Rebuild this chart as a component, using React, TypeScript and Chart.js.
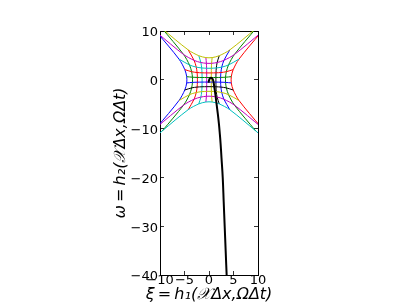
import React, { useEffect, useRef } from "react";
import { Chart, registerables } from "chart.js";

Chart.register(...registerables);

// Axis ticks
const xTickValues = [-10, -5, 0, 5, 10];
const xTickLabels = ["−10", "−5", "0", "5", "10"];
const yTickValues = [-40, -30, -20, -10, 0, 10];
const yTickLabels = ["−40", "−30", "−20", "−10", "0", "10"];

// Mapped grid: node coordinates. Row j = one line of the "horizontal" family (bottom → top),
// column i = one line of the "vertical" family (left → right).
const meshX = [
  [-16, -9.54, -4.25, -2.09, -0.64, 0.64, 2.09, 4.25, 9.54, 16],
  [-10.48, -5.19, -3.04, -1.66, -0.53, 0.53, 1.66, 3.04, 5.19, 10.48],
  [-6.13, -3.98, -2.6, -1.49, -0.49, 0.49, 1.49, 2.6, 3.98, 6.13],
  [-4.94, -3.54, -2.43, -1.43, -0.47, 0.47, 1.43, 2.43, 3.54, 4.94],
  [-4.55, -3.38, -2.37, -1.41, -0.47, 0.47, 1.41, 2.37, 3.38, 4.55],
  [-4.55, -3.38, -2.37, -1.41, -0.47, 0.47, 1.41, 2.37, 3.38, 4.55],
  [-4.94, -3.54, -2.43, -1.43, -0.47, 0.47, 1.43, 2.43, 3.54, 4.94],
  [-6.13, -3.98, -2.6, -1.49, -0.49, 0.49, 1.49, 2.6, 3.98, 6.13],
  [-10.48, -5.19, -3.04, -1.66, -0.53, 0.53, 1.66, 3.04, 5.19, 10.48],
  [-16, -9.54, -4.25, -2.09, -0.64, 0.64, 2.09, 4.25, 9.54, 16],
];
const meshY = [
  [-16, -10.48, -6.13, -4.94, -4.55, -4.55, -4.94, -6.13, -10.48, -16],
  [-9.54, -5.19, -3.98, -3.54, -3.38, -3.38, -3.54, -3.98, -5.19, -9.54],
  [-4.25, -3.04, -2.6, -2.43, -2.37, -2.37, -2.43, -2.6, -3.04, -4.25],
  [-2.09, -1.66, -1.49, -1.43, -1.41, -1.41, -1.43, -1.49, -1.66, -2.09],
  [-0.64, -0.53, -0.49, -0.47, -0.47, -0.47, -0.47, -0.49, -0.53, -0.64],
  [0.64, 0.53, 0.49, 0.47, 0.47, 0.47, 0.47, 0.49, 0.53, 0.64],
  [2.09, 1.66, 1.49, 1.43, 1.41, 1.41, 1.43, 1.49, 1.66, 2.09],
  [4.25, 3.04, 2.6, 2.43, 2.37, 2.37, 2.43, 2.6, 3.04, 4.25],
  [9.54, 5.19, 3.98, 3.54, 3.38, 3.38, 3.54, 3.98, 5.19, 9.54],
  [16, 10.48, 6.13, 4.94, 4.55, 4.55, 4.94, 6.13, 10.48, 16],
];

// matplotlib classic colour cycle b g r c m y k
const colColors = ["#0000ff", "#008000", "#ff0000", "#00bfbf", "#bf00bf", "#bfbf00", "#000000", "#0000ff", "#008000", "#ff0000"];
const rowColors = ["#00bfbf", "#bf00bf", "#bfbf00", "#000000", "#0000ff", "#008000", "#ff0000", "#00bfbf", "#bf00bf", "#bfbf00"];

// Thick black curve
const curveX = [-0.1, 0.05, 0.3, 0.55, 0.8, 0.95, 1.1, 1.3, 1.55, 1.8, 2.02, 2.2, 2.36, 2.55, 2.8, 3.0, 3.2, 3.4, 3.64];
const curveY = [-0.6, 0.05, 0.38, 0.35, 0.05, -0.6, -1.6, -3, -5, -7, -9, -11, -13, -16, -20, -25, -30, -35, -41];

const xTitle = "ξ\u2009=\u2009h₁(𝒳Δx,ΩΔt)";
const yTitle = "ω\u2009=\u2009h₂(𝒳Δx,ΩΔt)";

export default function App() {
  const ref = useRef<HTMLCanvasElement>(null);

  useEffect(() => {
    const canvas = ref.current;
    if (!canvas) return;
    Chart.defaults.font.family = "'DejaVu Sans', sans-serif";
    Chart.defaults.color = "#000";

    const lineBase = {
      showLine: true,
      pointRadius: 0,
      borderWidth: 1,
      tension: 0.3,
      fill: false,
      clip: 0,
    };

    const curveSet = {
      ...lineBase,
      data: curveX.map((x, i) => ({ x, y: curveY[i] })),
      borderColor: "#000000",
      borderWidth: 2,
      tension: 0.4,
      order: 0,
    };
    const rowSets = meshX
      .map((row, j) => ({
        ...lineBase,
        data: row.map((x, i) => ({ x, y: meshY[j][i] })),
        borderColor: rowColors[j],
        order: 1,
      }))
      .reverse();
    const colSets = colColors
      .map((c, i) => ({
        ...lineBase,
        data: meshX.map((row, j) => ({ x: row[i], y: meshY[j][i] })),
        borderColor: c,
        order: 2,
      }))
      .reverse();

    const gridOpts = {
      drawOnChartArea: false,
      drawTicks: true,
      tickLength: -4,
      tickColor: "#333",
      tickWidth: 1,
    };
    const borderOpts = { display: true, color: "#000", width: 1 };

    const chart = new Chart(canvas, {
      type: "scatter",
      data: { datasets: [curveSet, ...rowSets, ...colSets] as any },
      options: {
        animation: false,
        responsive: false,
        devicePixelRatio: 1,
        events: [],
        layout: { padding: { left: 9, right: 0, top: 31, bottom: 0 } },
        elements: { line: { capBezierPoints: false } },
        plugins: {
          legend: { display: false },
          tooltip: { enabled: false },
          title: {
            display: true,
            position: "bottom",
            text: xTitle,
            color: "#000",
            font: { size: 16, style: "italic", weight: "normal", lineHeight: 1 },
            padding: { top: 0, bottom: 4 },
          },
        },
        scales: {
          x: {
            type: "linear",
            position: "bottom",
            min: -10,
            max: 10,
            afterBuildTicks: (s: any) => {
              s.ticks = xTickValues.map((v) => ({ value: v }));
            },
            afterFit: (s: any) => {
              s.height = 12;
            },
            ticks: {
              autoSkip: false,
              maxRotation: 0,
              padding: 2,
              font: { size: 13 },
              color: "#000",
              callback: (v: any) => xTickLabels[xTickValues.indexOf(Number(v))],
            },
            grid: gridOpts,
            border: borderOpts,
          },
          y: {
            type: "linear",
            position: "left",
            min: -40,
            max: 10,
            afterBuildTicks: (s: any) => {
              s.ticks = yTickValues.map((v) => ({ value: v }));
            },
            afterFit: (s: any) => {
              s.width = 151;
            },
            ticks: {
              autoSkip: false,
              padding: 6,
              labelOffset: 2,
              font: { size: 13 },
              color: "#000",
              callback: (v: any) => yTickLabels[yTickValues.indexOf(Number(v))],
            },
            grid: gridOpts,
            border: borderOpts,
            title: {
              display: true,
              text: yTitle,
              font: { size: 16, style: "italic" },
              color: "#000",
              padding: { top: 102, bottom: 0 },
            },
          },
          x2: {
            type: "linear",
            position: "top",
            min: -10,
            max: 10,
            afterBuildTicks: (s: any) => {
              s.ticks = xTickValues.map((v) => ({ value: v }));
            },
            afterFit: (s: any) => {
              s.height = 0;
            },
            ticks: { display: false },
            grid: gridOpts,
            border: borderOpts,
          },
          y2: {
            type: "linear",
            position: "right",
            min: -40,
            max: 10,
            afterBuildTicks: (s: any) => {
              s.ticks = yTickValues.map((v) => ({ value: v }));
            },
            afterFit: (s: any) => {
              s.width = 151;
            },
            ticks: { display: false },
            grid: gridOpts,
            border: borderOpts,
          },
        },
      } as any,
    });
    return () => chart.destroy();
  }, []);

  return (
    <div style={{ position: "absolute", left: 0, top: 0, width: 409, height: 307, background: "#fff" }}>
      <canvas ref={ref} width={409} height={307} style={{ display: "block" }} />
    </div>
  );
}
